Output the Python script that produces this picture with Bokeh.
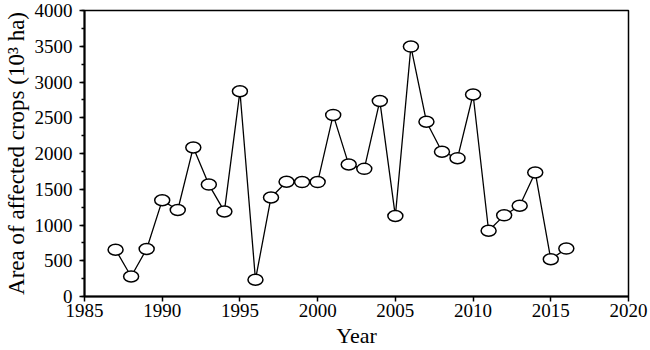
from bokeh.plotting import figure
from bokeh.models import Range1d, SingleIntervalTicker
from bokeh.embed import file_html
from bokeh.resources import INLINE

years = list(range(1987, 2017))
area = [655, 280, 665, 1345, 1210, 2085, 1565, 1190, 2870, 235,
        1385, 1605, 1600, 1600, 2540, 1845, 1785, 2735, 1125, 3495,
        2445, 2025, 1935, 2825, 920, 1135, 1270, 1735, 520, 670]

FONT = "Liberation Serif"

p = figure(width=650, height=350, output_backend="svg", toolbar_location=None,
           x_range=Range1d(1985, 2020), y_range=Range1d(0, 4000))
p.min_border_left = 83
p.min_border_right = 22
p.min_border_top = 10
p.min_border_bottom = 53
p.background_fill_color = "white"
p.border_fill_color = "white"
p.grid.visible = False
p.outline_line_color = "black"
p.outline_line_width = 1.5

p.line(years, area, line_color="black", line_width=1.3)
p.ellipse(years, area, width=15, height=11, width_units="screen", height_units="screen",
          fill_color="white", line_color="black", line_width=1.5)

p.xaxis.ticker = SingleIntervalTicker(interval=5, num_minor_ticks=0)
p.yaxis.ticker = SingleIntervalTicker(interval=500, num_minor_ticks=2)

for ax in (p.xaxis[0], p.yaxis[0]):
    ax.axis_line_color = "black"
    ax.axis_line_width = 2
    ax.major_tick_line_color = "black"
    ax.major_tick_line_width = 1.5
    ax.minor_tick_line_color = "black"
    ax.minor_tick_line_width = 1.5
    ax.major_tick_in = 0
    ax.major_tick_out = 5
    ax.minor_tick_in = 0
    ax.minor_tick_out = 3
    ax.major_label_text_font = FONT
    ax.major_label_text_font_size = "19px"
    ax.major_label_text_color = "black"
    ax.axis_label_text_font = FONT
    ax.axis_label_text_font_style = "normal"
    ax.axis_label_text_color = "black"

p.xaxis.axis_label = "Year"
p.yaxis.axis_label = "Area of affected crops (10³ ha)"
p.xaxis.axis_label_text_font_size = "22px"
p.yaxis.axis_label_text_font_size = "23px"
p.xaxis.major_label_standoff = 2
p.xaxis.axis_label_standoff = 3
p.yaxis.major_label_standoff = 7
p.yaxis.axis_label_standoff = 3

open("out.html", "w").write(file_html(p, INLINE))
